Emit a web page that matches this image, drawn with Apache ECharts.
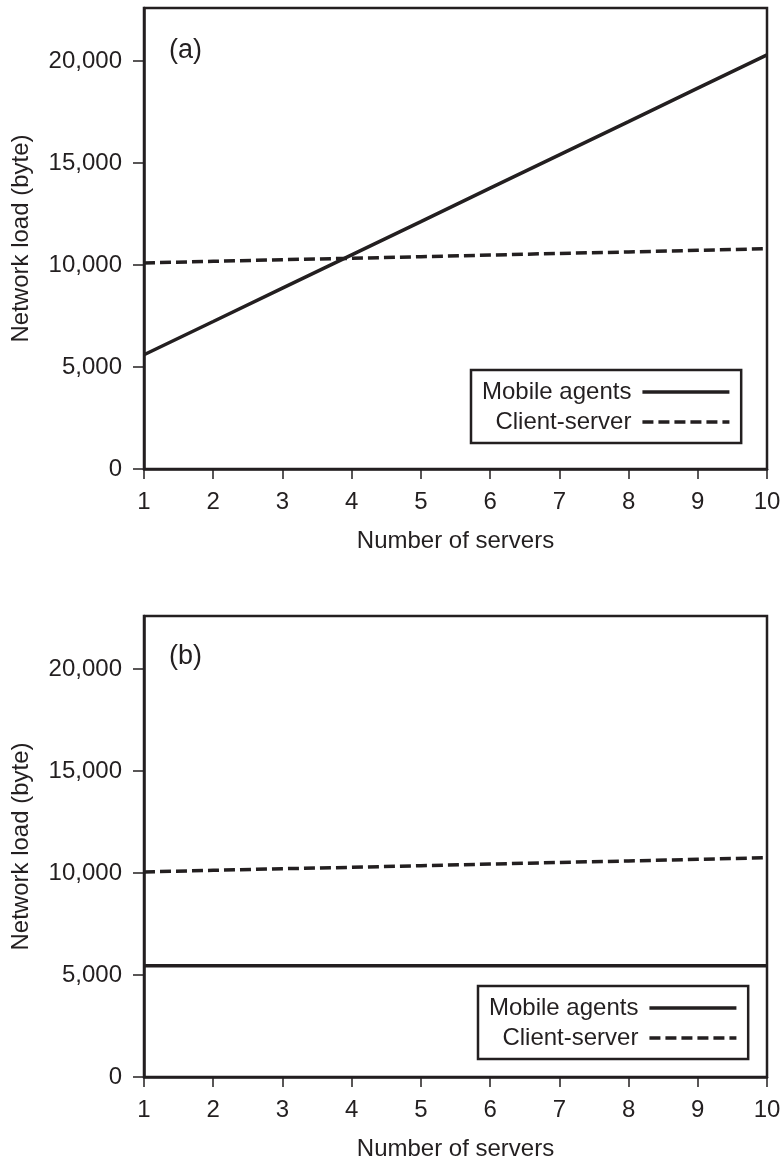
<!DOCTYPE html>
<html>
<head>
<meta charset="utf-8">
<script src="https://cdn.jsdelivr.net/npm/echarts@6/dist/echarts.min.js"></script>
<style>
html,body{margin:0;padding:0;background:#fff;}
#chart{width:784px;height:1163px;}
</style>
</head>
<body>
<div id="chart"></div>
<script>
// ---- data ----
const servers = [1, 2, 3, 4, 5, 6, 7, 8, 9, 10];
const mobileA = [5600, 7230, 8870, 10500, 12130, 13770, 15400, 17030, 18670, 20300];
const clientA = [10100, 10180, 10260, 10330, 10410, 10490, 10570, 10640, 10720, 10800];
const mobileB = [5450, 5450, 5450, 5450, 5450, 5450, 5450, 5450, 5450, 5450];
const clientB = [10050, 10130, 10210, 10280, 10360, 10440, 10520, 10590, 10670, 10750];
const yTicks = [0, 5000, 10000, 15000, 20000];
const seriesNames = ['Mobile agents', 'Client-server'];
const panelLabels = ['(a)', '(b)'];
const xTitle = 'Number of servers';
const yTitle = 'Network load (byte)';

const INK = '#231f20';
const FONT = 'Liberation Sans';
const FS = 24;

function fmt(v) { return String(v).replace(/\B(?=(\d{3})+(?!\d))/g, ','); }
function pairs(ys) { return servers.map((x, i) => [x, ys[i]]); }

const grids = [
  { left: 144, right: 17, top: 8, height: 461, show: true, borderColor: INK, borderWidth: 2.5, backgroundColor: 'transparent' },
  { left: 144, right: 17, top: 616, height: 461, show: true, borderColor: INK, borderWidth: 2.5, backgroundColor: 'transparent' }
];

function xAxis(gi) {
  return {
    type: 'value', gridIndex: gi, min: 1, max: 10, interval: 1,
    name: xTitle, nameLocation: 'middle', nameGap: 60,
    nameTextStyle: { color: INK, fontSize: FS, fontFamily: FONT },
    axisLine: { show: true, lineStyle: { color: INK, width: 2.5 } },
    axisTick: { show: true, length: 10, lineStyle: { color: INK, width: 1.5 } },
    axisLabel: { color: INK, fontSize: FS, fontFamily: FONT, margin: 21, showMinLabel: true, showMaxLabel: true },
    splitLine: { show: false }
  };
}
function yAxis(gi) {
  return {
    type: 'value', gridIndex: gi, min: 0, max: 22600,
    name: yTitle, nameLocation: 'middle', nameGap: 111,
    nameTextStyle: { color: INK, fontSize: FS, fontFamily: FONT },
    axisLine: { show: true, lineStyle: { color: INK, width: 2.5 } },
    axisTick: { show: true, length: 11, customValues: yTicks, lineStyle: { color: INK, width: 1.5 } },
    axisLabel: { color: INK, fontSize: FS, fontFamily: FONT, margin: 22, customValues: yTicks, formatter: fmt },
    splitLine: { show: false }
  };
}
function line(name, gi, ys, dashed) {
  return {
    type: 'line', name: name, xAxisIndex: gi, yAxisIndex: gi,
    data: pairs(ys), symbol: 'none', showSymbol: false, silent: true, animation: false,
    lineStyle: { color: INK, width: 3.5, type: dashed ? [11, 5] : 'solid' },
    itemStyle: { color: INK }
  };
}
function legend(left, top) {
  return {
    data: seriesNames, orient: 'vertical', align: 'right',
    left: left, top: top, padding: [10, 10, 9, 11],
    borderColor: INK, borderWidth: 2.5, backgroundColor: '#fff',
    itemWidth: 87, itemHeight: 14, itemGap: 6,
    selectedMode: false,
    itemStyle: { opacity: 0 },
    lineStyle: { width: 3.5, color: INK },
    textStyle: { color: INK, fontSize: FS, fontFamily: FONT, lineHeight: 23, padding: [0, 6, 0, 0] }
  };
}

const chart = echarts.init(document.getElementById('chart'), null, { renderer: 'canvas' });
chart.setOption({
  animation: false,
  backgroundColor: '#fff',
  title: [
    { text: panelLabels[0], left: 169, top: 37, padding: 0, textStyle: { color: INK, fontSize: 27, fontWeight: 'normal', fontFamily: FONT } },
    { text: panelLabels[1], left: 169, top: 643, padding: 0, textStyle: { color: INK, fontSize: 27, fontWeight: 'normal', fontFamily: FONT } }
  ],
  grid: grids,
  xAxis: [xAxis(0), xAxis(1)],
  yAxis: [yAxis(0), yAxis(1)],
  legend: [legend(471, 370), legend(478, 986)],
  series: [
    line(seriesNames[0], 0, mobileA, false),
    line(seriesNames[1], 0, clientA, true),
    line(seriesNames[0], 1, mobileB, false),
    line(seriesNames[1], 1, clientB, true)
  ]
});
</script>
</body>
</html>
